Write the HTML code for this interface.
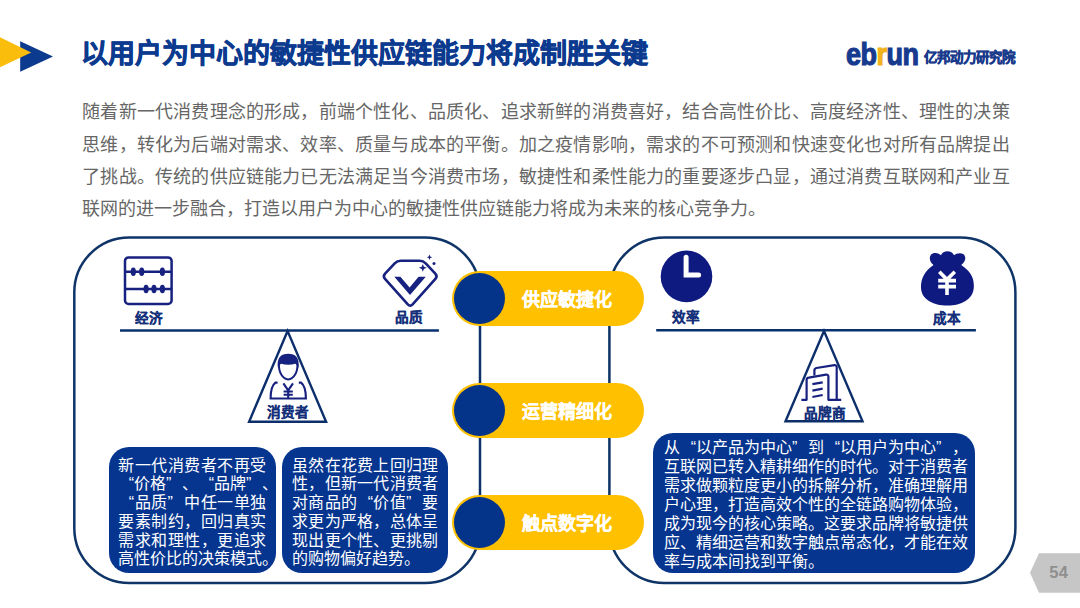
<!DOCTYPE html>
<html lang="zh-CN"><head><meta charset="utf-8">
<style>
*{margin:0;padding:0;box-sizing:border-box;}
html,body{width:1080px;height:608px;background:#fff;overflow:hidden;}
body{font-family:"Liberation Sans",sans-serif;position:relative;}
.abs{position:absolute;}
#title{left:81px;top:37.3px;font-size:27px;font-weight:bold;color:#0b3a8f;-webkit-text-stroke:0.7px #0b3a8f;white-space:nowrap;line-height:34px;}
#para{left:82.2px;top:96.3px;width:927.5px;font-size:18px;color:#666;line-height:32.4px;}
#para div{text-align:justify;text-align-last:justify;white-space:nowrap;height:32.4px;}
#para div.last{text-align-last:left;}
.tb{background:#06358f;border-radius:20px;color:#fff;font-size:16px;}
.tb div{text-align:justify;text-align-last:justify;white-space:nowrap;}
.pill{left:452px;width:192px;height:55px;border-radius:28px;background:#ffc000;}
.pill .c{position:absolute;left:1.5px;top:2px;width:51px;height:51px;border-radius:50%;background:#04338a;}
.pill .t{position:absolute;left:70px;top:1.5px;line-height:55px;font-size:18px;font-weight:bold;color:#fff;white-space:nowrap;-webkit-text-stroke:0.25px #fff;}
.lq{display:inline-block;width:1em;text-align:right;text-align-last:right;}
.rq{display:inline-block;width:1em;text-align:left;text-align-last:left;}
.lbl{font-size:13.6px;font-weight:bold;color:#15307a;-webkit-text-stroke:0.2px #15307a;white-space:nowrap;line-height:14px;}
</style></head><body>
<!-- header arrows -->
<svg class="abs" style="left:0;top:0" width="80" height="90">
  <polygon points="20.2,41.3 53,56.4 20.2,71.8" fill="#0b3a8f"/>
  <polygon points="-4,35.3 31.2,52.6 -4,69.1" fill="#fbbd0c"/>
</svg>
<div id="title" class="abs">以用户为中心的敏捷性供应链能力将成制胜关键</div>
<!-- logo -->
<div class="abs" style="left:846px;top:37.2px;font-size:27px;font-weight:bold;color:#163a8e;letter-spacing:-0.5px;line-height:30px;transform:scaleY(1.15);transform-origin:0 0;-webkit-text-stroke:1px #163a8e;">eb<span style="color:#f2b21a;-webkit-text-stroke:1px #f2b21a">r</span>un</div>
<div class="abs" style="left:924px;top:48.5px;font-size:13.5px;font-weight:900;color:#1a3a8c;-webkit-text-stroke:0.6px #1a3a8c;line-height:18px;white-space:nowrap;">亿邦动力研究院</div>

<div id="para" class="abs">
<div>随着新一代消费理念的形成，前端个性化、品质化、追求新鲜的消费喜好，结合高性价比、高度经济性、理性的决策</div>
<div>思维，转化为后端对需求、效率、质量与成本的平衡。加之疫情影响，需求的不可预测和快速变化也对所有品牌提出</div>
<div>了挑战。传统的供应链能力已无法满足当今消费市场，敏捷性和柔性能力的重要逐步凸显，通过消费互联网和产业互</div>
<div class="last">联网的进一步融合，打造以用户为中心的敏捷性供应链能力将成为未来的核心竞争力。</div>
</div>

<!-- big boxes -->
<svg class="abs" style="left:0;top:0" width="1080" height="608">
  <rect x="74.3" y="237.5" width="405.7" height="345.5" rx="55" ry="55" fill="none" stroke="#0f3468" stroke-width="2.5"/>
  <rect x="609.4" y="237.5" width="406" height="345.5" rx="55" ry="55" fill="none" stroke="#0f3468" stroke-width="2.5"/>
  <!-- balance lines -->
  <line x1="120" y1="330.6" x2="438.9" y2="330.6" stroke="#08306e" stroke-width="2.5"/>
  <line x1="656.2" y1="330.3" x2="975.9" y2="330.3" stroke="#08306e" stroke-width="2.5"/>
  <!-- triangles -->
  <polygon points="287.6,331 249.1,421.7 326.1,421.7" fill="none" stroke="#0c2f6c" stroke-width="2.4" stroke-linejoin="miter"/>
  <polygon points="824,331 785.5,421.2 862.5,421.2" fill="none" stroke="#0c2f6c" stroke-width="2.4"/>
</svg>


<!-- icons -->
<svg class="abs" style="left:0;top:0" width="1080" height="608">
 <g fill="none" stroke="#17217f" stroke-width="2.5">
  <rect x="125" y="257.4" width="46.6" height="46.6" rx="3.6"/>
  <line x1="125" y1="271.7" x2="171.6" y2="271.7"/>
  <line x1="125" y1="289" x2="171.6" y2="289"/>
 </g>
 <g fill="#17217f">
  <ellipse cx="133.3" cy="271.7" rx="2.6" ry="4.3"/>
  <ellipse cx="141.7" cy="271.7" rx="2.6" ry="4.3"/>
  <ellipse cx="162.4" cy="271.7" rx="2.6" ry="4.3"/>
  <ellipse cx="146.1" cy="289" rx="2.6" ry="4.3"/>
  <ellipse cx="154" cy="289" rx="2.6" ry="4.3"/>
  <ellipse cx="162.4" cy="289" rx="2.6" ry="4.3"/>
 </g>
 <!-- diamond -->
 <path d="M400.8,260.7 L419.6,260.7 Q423.2,260.7 425.7,263.3 L435.3,273.6 Q437.8,276.2 435.4,278.9 L412.6,304.3 Q410.2,307.0 407.8,304.3 L385.0,278.9 Q382.6,276.2 385.1,273.6 L394.7,263.3 Q397.2,260.7 400.8,260.7 Z" fill="none" stroke="#17217f" stroke-width="2.6" stroke-linejoin="round"/>
 <polygon points="394.3,276.8 400.4,276.8 409.6,287.6 418.6,276.8 425.8,276.8 410,295" fill="#17217f"/>
 <path d="M422.8,263.9 L423.9,266.7 L426.7,267.8 L423.9,268.9 L422.8,271.7 L421.7,268.9 L418.9,267.8 L421.7,266.7 Z" fill="#17217f"/>
 <path d="M429.5,254.6 L430.3,256.5 L432.2,257.3 L430.3,258.1 L429.5,260.0 L428.7,258.1 L426.8,257.3 L428.7,256.5 Z" fill="#17217f"/>
 <circle cx="434" cy="263.4" r="1.5" fill="#17217f"/>
 <!-- person -->
 <path d="M277.9,367.6 C276.6,358 280.8,353.8 288.2,353.8 C295.6,353.8 299.8,358 298.5,367.6 L297.4,367.6 C297,365.4 296.4,364.2 295.2,363.8 C291,365 285.4,365 281.2,363.8 C280,364.2 279.4,365.4 279,367.6 Z" fill="#17217f"/>
 <path d="M278.9,364 C278.8,368 279.4,371.6 281.4,374.8 C283.2,377.8 285.5,379.4 288.2,379.4 C290.9,379.4 293.2,377.8 295,374.8 C297,371.6 297.6,368 297.5,364" fill="none" stroke="#17217f" stroke-width="2"/>
 <path d="M277.6,382.6 H275.4 C272.6,384.8 270.6,389.6 270.6,398.5 H305.9 C305.9,389.6 303.9,384.8 301.1,382.6 H298.8" fill="none" stroke="#17217f" stroke-width="2.1"/>
 <path d="M283.4,383.4 L288.2,390.4 L293,383.4 M283.6,391.5 H292.8 M283.6,394.7 H292.8 M288.2,390.4 V398" fill="none" stroke="#17217f" stroke-width="2.1"/>
 <!-- clock -->
 <circle cx="686.5" cy="276.4" r="25.8" fill="#0e1a80"/>
 <path d="M686.1,257.3 V275 H698.6" fill="none" stroke="#fff" stroke-width="5" stroke-linecap="round" stroke-linejoin="miter"/>
 <!-- money bag -->
 <path d="M933.5,265 C929,262 928.3,255 933.3,253.3 C937,252.3 939.5,254.3 941,255.3 C942.5,250 952,249.6 954,255.3 C956,253.8 960,252.3 963.6,254.3 C966.8,257.5 965.2,262 961.2,265 C970.5,271 974.4,278 973.8,287.5 C973,299.5 961.4,305.6 947.4,305.6 C933.4,305.6 921.2,299.5 921,287.5 C920.8,278 925,271 933.5,265 Z" fill="#0e1a80"/>
 <path d="M939.3,271.8 L947,279.6 L954.8,271.8 M938.2,280.6 H956 M938.2,286.6 H956 M947,279.6 V295" fill="none" stroke="#fff" stroke-width="3.6"/>
 <!-- buildings -->
 <g fill="none" stroke="#17217f" stroke-width="2.2" stroke-linejoin="round">
  <path d="M801.4,399.8 H806.6 V380 Q806.6,377.8 808.8,377.6 L826,374.6 Q828.4,374.4 828.4,376.6 V399.8 H841.2"/>
  <path d="M814.4,375.4 V370.4 Q814.4,368.4 816.4,368 L834.4,365.2 Q836.7,365 836.7,367.2 V399.8"/>
  <path d="M812.4,384.2 L822.7,382.4 M812.4,390.6 L822.7,388.7 M812.4,397 L822.7,395"/>
 </g>
</svg>

<!-- pills -->
<div class="abs pill" style="top:271px"><div class="c"></div><div class="t">供应敏捷化</div></div>
<div class="abs pill" style="top:383px"><div class="c"></div><div class="t">运营精细化</div></div>
<div class="abs pill" style="top:495px"><div class="c"></div><div class="t">触点数字化</div></div>

<!-- labels -->
<div class="abs lbl" style="left:135px;top:311.5px">经济</div>
<div class="abs lbl" style="left:395px;top:310.5px">品质</div>
<div class="abs lbl" style="left:267px;top:406.2px">消费者</div>
<div class="abs lbl" style="left:672px;top:310.5px">效率</div>
<div class="abs lbl" style="left:933px;top:311.5px">成本</div>
<div class="abs lbl" style="left:803.5px;top:406.8px">品牌商</div>

<!-- text boxes -->
<div class="abs tb" style="left:108.5px;top:447.2px;width:167.5px;height:126.3px;padding:9.5px 10px 0 9.5px;line-height:18.7px;">
<div>新一代消费者不再受</div>
<div><span class="lq">“</span>价格<span class="rq">”</span>、<span class="lq">“</span>品牌<span class="rq">”</span>、</div>
<div><span class="lq">“</span>品质<span class="rq">”</span>中任一单独</div>
<div>要素制约，回归真实</div>
<div>需求和理性，更追求</div>
<div>高性价比的决策模式。</div>
</div>
<div class="abs tb" style="left:282px;top:447.2px;width:166.3px;height:126.3px;padding:9.5px 10px 0 10px;line-height:18.7px;">
<div>虽然在花费上回归理</div>
<div>性，但新一代消费者</div>
<div>对商品的<span class="lq">“</span>价值<span class="rq">”</span>要</div>
<div>求更为严格，总体呈</div>
<div>现出更个性、更挑剔</div>
<div style="text-align-last:left">的购物偏好趋势。</div>
</div>
<div class="abs tb" style="left:653px;top:433px;width:322px;height:140px;padding:5px 8px 0 11px;line-height:19px;">
<div>从<span class="lq">“</span>以产品为中心<span class="rq">”</span>到<span class="lq">“</span>以用户为中心<span class="rq">”</span>，</div>
<div>互联网已转入精耕细作的时代。对于消费者</div>
<div>需求做颗粒度更小的拆解分析，准确理解用</div>
<div>户心理，打造高效个性的全链路购物体验，</div>
<div>成为现今的核心策略。这要求品牌将敏捷供</div>
<div>应、精细运营和数字触点常态化，才能在效</div>
<div style="text-align-last:left">率与成本间找到平衡。</div>
</div>

<!-- page tag -->
<svg class="abs" style="left:1020px;top:545px" width="60" height="55">
  <polygon points="10,27.8 19,8.3 60,8.3 60,47.7 19,47.7" fill="#c6c6c6"/>
</svg>
<div class="abs" style="left:1049.3px;top:563.2px;font-size:16.5px;font-weight:bold;color:#8f8f8f;line-height:18px;letter-spacing:0.4px;">54</div>
</body></html>
